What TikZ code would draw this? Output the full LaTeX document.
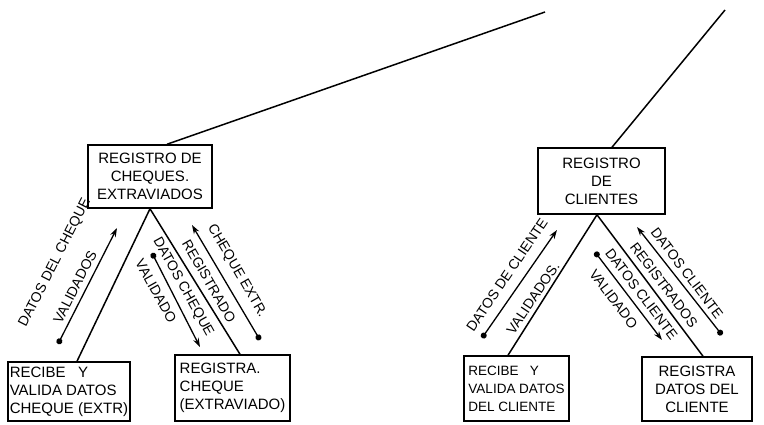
\documentclass[tikz,border=0pt]{standalone}
\usepackage{fontspec}
\setmainfont{Liberation Sans}
\usetikzlibrary{arrows.meta}
\begin{document}
\begin{tikzpicture}[x=1pt,y=-1pt,
  line width=1.5pt,
  module/.style={draw,rectangle,inner sep=2pt,font=\fontsize{15}{18}\selectfont},
  flow/.style={line width=1.3pt,{Circle[length=6pt]}-{Stealth[length=9pt,width=6pt]}},
  flowtext/.style={inner sep=0pt,font=\fontsize{14}{16}\selectfont}]
\useasboundingbox (0,0) rectangle (764,424);

% modules
\node[module,minimum width=124pt,minimum height=63pt,align=center] (A) at (150,176.5)
  {REGISTRO DE\\CHEQUES.\\EXTRAVIADOS};
\node[module,minimum width=127pt,minimum height=66pt,align=center] (B) at (601.5,181)
  {REGISTRO\\DE\\CLIENTES};
\node[module,minimum width=122pt,minimum height=59pt,align=left] (C) at (69,391.5)
  {RECIBE \ \ Y\\VALIDA DATOS\\CHEQUE (EXTR)};
\node[module,minimum width=115pt,minimum height=66pt,align=left] (D) at (232.5,388)
  {REGISTRA.\\CHEQUE\\(EXTRAVIADO)};
\node[module,minimum width=105pt,minimum height=65pt,align=left,
      font=\fontsize{13.5}{18}\selectfont] (E) at (516.5,388.5)
  {RECIBE \ \ Y\\VALIDA DATOS\\DEL CLIENTE};
\node[module,minimum width=110pt,minimum height=64pt,align=center] (F) at (697,389)
  {REGISTRA\\DATOS DEL\\CLIENTE};

% calls to the parent modules
\coordinate (upA) at (545,12);
\coordinate (upB) at (725,10);
\draw ([xshift=17pt]A.north) -- (upA);
\draw ([xshift=10.5pt]B.north) -- (upB);

% calls to the subordinate modules
\draw (A.south) -- ([xshift=8pt]C.north);
\draw (A.south) -- ([xshift=7.5pt]D.north);
\draw ([xshift=-4.5pt]B.south) -- ([xshift=-8.5pt]E.north);
\draw ([xshift=-4.5pt]B.south) -- ([xshift=6pt]F.north);

% data couples
\coordinate (c1s) at (58,344);  \coordinate (c1e) at (117,228);
\coordinate (c2s) at (152,253); \coordinate (c2e) at (200,347);
\coordinate (c3s) at (260,340); \coordinate (c3e) at (192,225);
\coordinate (c4s) at (482,338); \coordinate (c4e) at (557,230);
\coordinate (c5s) at (595,252); \coordinate (c5e) at (662,340);
\coordinate (c6s) at (722,335); \coordinate (c6e) at (637,227);
\draw[flow] (c1s) -- (c1e);
\draw[flow] (c2s) -- (c2e);
\draw[flow] (c3s) -- (c3e);
\draw[flow] (c4s) -- (c4e);
\draw[flow] (c5s) -- (c5e);
\draw[flow] (c6s) -- (c6e);

% couple labels
\node[flowtext,rotate=63] (l1a) at (55,263) {DATOS DEL CHEQUE};
\node[flowtext,rotate=63] (l1b) at (75,287) {VALIDADOS};
\node[flowtext,rotate=-61] (l2a) at (183,287) {DATOS CHEQUE};
\node[flowtext,rotate=-61] (l2b) at (156,291) {VALIDADO};
\node[flowtext,rotate=-60] (l3a) at (237,271) {CHEQUE EXTR.};
\node[flowtext,rotate=-60] (l3b) at (209,281) {REGISTRADO};
\node[flowtext,rotate=56] (l4a) at (507,275) {DATOS DE CLIENTE};
\node[flowtext,rotate=56] (l4b) at (533,298) {VALIDADOS.};
\node[flowtext,rotate=-53] (l5a) at (641.5,294) {DATOS CLIENTE};
\node[flowtext,rotate=-53] (l5b) at (613.5,299) {VALIDADO};
\node[flowtext,rotate=-53] (l6a) at (687,273) {DATOS CLIENTE};
\node[flowtext,rotate=-53] (l6b) at (664,285) {REGISTRADOS};
\end{tikzpicture}
\end{document}
